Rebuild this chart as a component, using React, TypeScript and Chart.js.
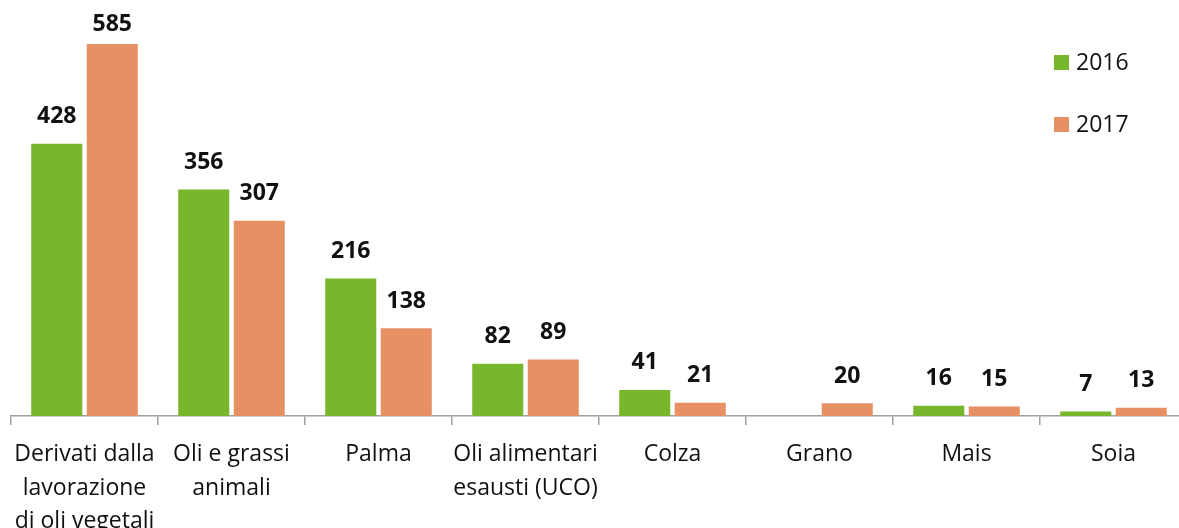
import React, { useEffect, useRef } from "react";
import { Chart, registerables } from "chart.js";

Chart.register(...registerables);

const categories: string[][] = [
  ["Derivati dalla", "lavorazione", "di oli vegetali"],
  ["Oli e grassi", "animali"],
  ["Palma"],
  ["Oli alimentari", "esausti (UCO)"],
  ["Colza"],
  ["Grano"],
  ["Mais"],
  ["Soia"],
];
const values2016: (number | null)[] = [428, 356, 216, 82, 41, null, 16, 7];
const values2017: (number | null)[] = [585, 307, 138, 89, 21, 20, 15, 13];
const seriesNames = ["2016", "2017"];
const seriesColors = ["#78B72C", "#E69064"];

const FONT = "'Open Sans', 'DejaVu Sans', sans-serif";

const labelPlugin = {
  id: "barLabels",
  afterDatasetsDraw(chart: any) {
    const ctx = chart.ctx;
    ctx.save();
    ctx.font = `bold 23px ${FONT}`;
    ctx.fillStyle = "#111";
    ctx.textAlign = "center";
    ctx.textBaseline = "middle";
    chart.data.datasets.forEach((ds: any, i: number) => {
      const meta = chart.getDatasetMeta(i);
      meta.data.forEach((el: any, j: number) => {
        const v = ds.data[j];
        if (v === null || v === undefined) return;
        const y = Math.max(el.y - 27, 24);
        ctx.fillText(String(v), el.x, y);
      });
    });
    ctx.restore();
  },
};

const legendPlugin = {
  id: "customLegend",
  afterDraw(chart: any) {
    const ctx = chart.ctx;
    ctx.save();
    const ys = [62.5, 124.5];
    seriesNames.forEach((name, i) => {
      ctx.fillStyle = seriesColors[i];
      ctx.fillRect(1054, ys[i] - 7.5, 15, 15);
      ctx.fillStyle = "#111";
      ctx.font = `23px ${FONT}`;
      ctx.textAlign = "left";
      ctx.textBaseline = "middle";
      ctx.fillText(name, 1076, ys[i] + 1);
    });
    ctx.restore();
  },
};

export default function App() {
  const ref = useRef<HTMLCanvasElement>(null);
  useEffect(() => {
    if (!ref.current) return;
    const chart = new Chart(ref.current, {
      type: "bar",
      data: {
        labels: categories,
        datasets: [
          {
            label: seriesNames[0],
            data: values2016,
            backgroundColor: seriesColors[0],
            categoryPercentage: 0.755,
            barPercentage: 0.92,
          },
          {
            label: seriesNames[1],
            data: values2017,
            backgroundColor: seriesColors[1],
            categoryPercentage: 0.755,
            barPercentage: 0.92,
          },
        ],
      },
      options: {
        responsive: false,
        animation: false,
        devicePixelRatio: 1,
        layout: { padding: { left: 11, right: 13, top: 0, bottom: 0 } },
        plugins: {
          legend: { display: false },
          tooltip: { enabled: false },
        },
        scales: {
          x: {
            grid: {
              offset: true,
              drawOnChartArea: false,
              drawTicks: true,
              tickLength: 9,
              color: "#A0A0A0",
              lineWidth: 1.5,
            },
            border: { color: "#A0A0A0", width: 1.5 },
            ticks: {
              color: "#111",
              padding: 13,
              maxRotation: 0,
              autoSkip: false,
              font: { family: FONT, size: 23, lineHeight: 1.46 },
            },
            afterFit: (scale: any) => {
              scale.height = 112;
            },
          },
          y: {
            display: false,
            min: 0,
            max: 654,
          },
        },
      },
      plugins: [labelPlugin, legendPlugin],
    });
    return () => chart.destroy();
  }, []);
  return (
    <div
      style={{
        position: "fixed",
        left: 0,
        top: 0,
        width: 1179,
        height: 528,
        overflow: "hidden",
        background: "#fff",
      }}
    >
      <canvas ref={ref} width={1200} height={528} style={{ display: "block" }} />
    </div>
  );
}
